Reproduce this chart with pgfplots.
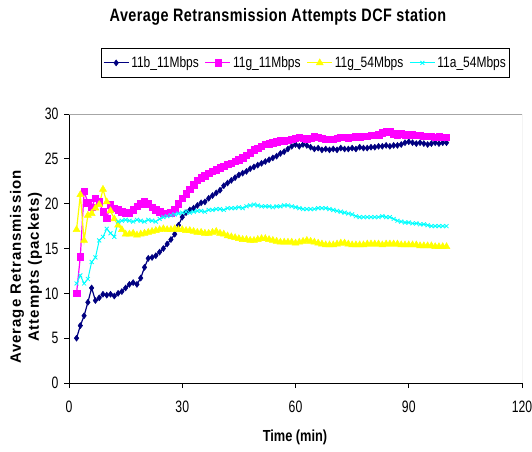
\documentclass[border=0pt]{standalone}
\usepackage{fontspec}
\setmainfont[FakeStretch=0.8]{Liberation Sans}
\newfontfamily\titlefont[FakeStretch=0.8,LetterSpace=2.5]{Liberation Sans}
\newfontfamily\tickfont[FakeStretch=0.74]{Liberation Sans}
\newfontfamily\ylfont[LetterSpace=6]{Liberation Sans}
\usepackage{pgfplots}
\usepackage{pgfplotstable}
\pgfplotsset{compat=1.18}
\definecolor{navyb}{RGB}{0,0,128}
\definecolor{magb}{RGB}{255,0,255}
\definecolor{yelb}{RGB}{255,255,0}
\definecolor{cyab}{RGB}{0,255,255}
\pgfplotstableread{
t b g11 g54 a54
2 5.0 10.0 17.1 11.1
3 6.4 14.1 21.0 12.0
4 7.5 21.4 15.9 11.1
5 9.0 20.1 18.7 11.6
6 10.6 19.6 18.9 13.5
7 9.2 20.6 19.5 14.0
8 9.5 20.2 19.9 15.9
9 9.9 19.1 21.6 16.3
10 9.8 18.4 20.2 17.2
11 9.9 19.9 19.2 16.7
12 9.7 19.5 18.3 16.3
13 10.0 19.3 17.6 18.0
14 10.2 19.1 17.1 18.1
15 10.6 19.0 16.6 18.2
16 11.0 18.9 16.6 18.1
17 11.2 19.3 16.7 18.0
18 11.0 19.7 16.5 18.2
19 11.7 20.0 16.6 18.1
20 12.9 20.2 16.7 18.0
21 13.9 20.0 16.8 18.2
22 14.0 19.6 16.9 18.1
23 14.2 19.3 17.0 18.0
24 14.6 19.1 17.1 18.3
25 15.0 18.9 17.2 18.5
26 15.5 18.9 17.1 18.6
27 16.0 19.0 17.1 18.7
28 16.6 19.4 17.2 18.8
29 17.6 20.0 17.1 18.9
30 18.5 20.6 17.1 19.0
31 19.0 21.1 17.0 19.1
32 19.3 21.6 17.0 19.0
33 19.5 22.1 16.9 19.1
34 19.8 22.6 16.8 19.2
35 20.1 22.9 16.8 19.2
36 20.2 23.1 16.7 19.1
37 20.6 23.4 16.7 19.3
38 20.9 23.6 16.8 19.3
39 21.2 23.8 16.9 19.4
40 21.5 24.0 16.7 19.4
41 22.0 24.2 16.6 19.3
42 22.3 24.4 16.4 19.5
43 22.6 24.5 16.3 19.5
44 22.9 24.7 16.2 19.5
45 23.2 24.9 16.1 19.6
46 23.4 25.1 16.0 19.5
47 23.6 25.4 16.0 19.7
48 23.9 25.7 15.9 19.8
49 24.1 26.0 15.9 19.9
50 24.3 26.2 16.0 19.8
51 24.5 26.4 16.1 19.7
52 24.7 26.6 16.1 19.7
53 24.9 26.7 16.0 19.7
54 25.1 26.8 15.9 19.6
55 25.3 26.9 15.8 19.7
56 25.6 27.0 15.7 19.7
57 25.8 27.0 15.7 19.8
58 26.1 27.1 15.7 19.8
59 26.4 27.2 15.7 19.7
60 26.6 27.3 15.6 19.6
61 26.4 27.4 15.7 19.5
62 26.6 27.3 15.8 19.4
63 26.5 27.2 15.9 19.4
64 26.3 27.3 15.8 19.4
65 26.1 27.5 15.7 19.4
66 26.2 27.4 15.6 19.5
67 26.0 27.3 15.5 19.5
68 26.1 27.2 15.4 19.5
69 26.0 27.2 15.4 19.4
70 26.1 27.2 15.4 19.3
71 26.0 27.3 15.5 19.2
72 26.2 27.4 15.6 19.1
73 26.1 27.4 15.6 19.0
74 26.1 27.3 15.5 18.9
75 26.2 27.4 15.4 18.8
76 26.1 27.5 15.4 18.6
77 26.3 27.4 15.4 18.5
78 26.2 27.5 15.4 18.5
79 26.2 27.5 15.5 18.5
80 26.3 27.6 15.5 18.5
81 26.3 27.6 15.5 18.5
82 26.4 27.7 15.5 18.5
83 26.4 27.9 15.4 18.6
84 26.5 28.1 15.5 18.5
85 26.4 28.0 15.5 18.5
86 26.5 27.8 15.5 18.3
87 26.5 27.7 15.5 18.1
88 26.6 27.8 15.4 18.0
89 26.8 27.7 15.4 17.9
90 26.9 27.7 15.4 17.9
91 26.8 27.7 15.4 17.8
92 26.7 27.6 15.4 17.8
93 26.8 27.6 15.3 17.7
94 26.7 27.5 15.3 17.7
95 26.6 27.5 15.3 17.6
96 26.7 27.5 15.3 17.5
97 26.8 27.4 15.2 17.5
98 26.7 27.5 15.2 17.5
99 26.8 27.4 15.2 17.5
100 26.8 27.4 15.2 17.5
}\datatable
\begin{document}
\begin{tikzpicture}[x=1pt,y=1pt]
\begin{axis}[
  at={(69pt,68pt)}, anchor=south west,
  scale only axis, width=453pt, height=269pt,
  xmin=0, xmax=120, ymin=0, ymax=30,
  xtick={0,30,60,90,120}, ytick={0,5,10,15,20,25,30},
  axis x line*=bottom, axis y line*=left,
  axis line style={black, line width=0.8pt, -},
  xtick pos=left, ytick pos=left,
  tick align=outside, major tick length=5pt,
  tick style={black, line width=0.8pt},
  /pgf/number format/assume math mode=true,
  ticklabel style={font=\tickfont\fontsize{16.5}{16.5}\selectfont},
  xticklabel style={yshift=-9pt},
  yticklabel style={xshift=-2pt},
  legend columns=4,
  legend style={at={(0.522,1.19)}, anchor=center, draw=black, line width=0.8pt,
    font=\fontsize{15}{15}\selectfont, inner xsep=2pt, inner ysep=6pt,
    /tikz/every even column/.append style={column sep=4pt}},
  legend image code/.code={\draw[mark repeat=2,mark phase=2] plot coordinates {(0pt,0pt) (12.5pt,0pt) (25pt,0pt)};},
]
\draw[gray!70, line width=1pt] (rel axis cs:0,1) -- (rel axis cs:1,1) -- (rel axis cs:1,0);
\addplot[navyb, line width=1.2pt, mark=diamond*, mark size=3pt, mark options={fill=navyb, draw=navyb, line width=0.5pt}] table[x=t,y=b] {\datatable};
\addlegendentry{11b\_11Mbps}
\addplot[magb, line width=1.2pt, mark=square*, mark size=3.2pt, mark options={fill=magb, draw=magb, line width=0.5pt}] table[x=t,y=g11] {\datatable};
\addlegendentry{11g\_11Mbps}
\addplot[yelb, line width=1.2pt, mark=triangle*, mark size=4pt, mark options={fill=yelb, draw=yelb, line width=0.5pt}] table[x=t,y=g54] {\datatable};
\addlegendentry{11g\_54Mbps}
\addplot[cyab, line width=1pt, mark=x, mark size=2.8pt, mark options={draw=cyab, line width=0.8pt}] table[x=t,y=a54] {\datatable};
\addlegendentry{11a\_54Mbps}
\end{axis}
\node[font=\titlefont\bfseries\fontsize{18}{20}\selectfont] at (278pt,434pt) {Average Retransmission Attempts DCF station};
\node[font=\bfseries\fontsize{16}{16}\selectfont] at (295pt,14pt) {Time (min)};
\node[rotate=90, font=\ylfont\bfseries\fontsize{15}{15}\selectfont] at (17pt,184pt) {Average Retransmission};
\node[rotate=90, font=\ylfont\bfseries\fontsize{15}{15}\selectfont] at (35pt,184pt) {Attempts (packets)};
\pgfresetboundingbox
\path[use as bounding box] (0,0) rectangle (532pt,451pt);
\end{tikzpicture}
\end{document}
